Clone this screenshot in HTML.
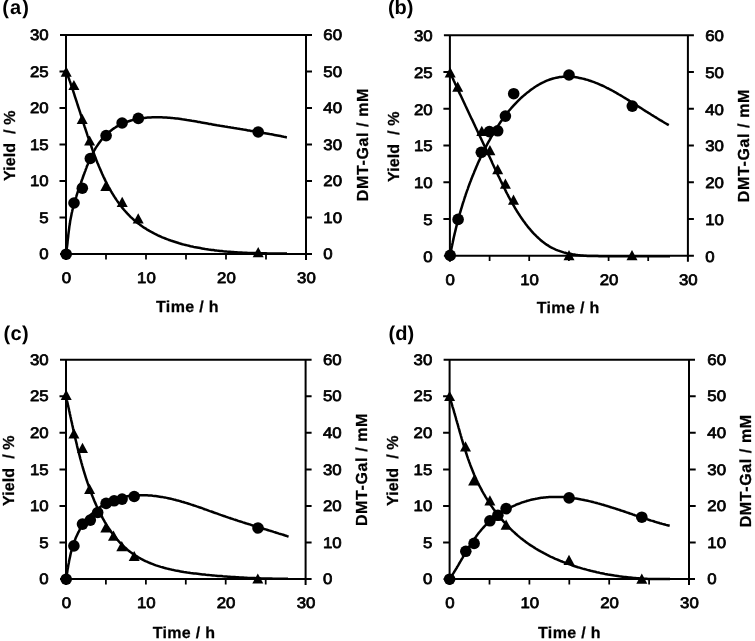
<!DOCTYPE html>
<html lang="en">
<head>
<meta charset="utf-8">
<title>Yield and DMT-Gal time courses</title>
<style>
html, body { margin: 0; padding: 0; background: #fff; }
body { width: 755px; height: 641px; overflow: hidden; font-family: "Liberation Sans", sans-serif; }
svg { display: block; }
</style>
</head>
<body>
<svg width="755" height="641" viewBox="0 0 755 641" font-family='"Liberation Sans", sans-serif' font-weight="normal" fill="#000" style="will-change:transform" text-rendering="geometricPrecision">
<g id="panel-a"><path d="M60.0,35.0 H312.0 M60.0,254.0 H312.0 M66.0,35.0 V260.0 M306.0,35.0 V260.0 M59.5,217.5 H66.0 M306.0,217.5 H312.0 M59.5,181.0 H66.0 M306.0,181.0 H312.0 M59.5,144.5 H66.0 M306.0,144.5 H312.0 M59.5,108.0 H66.0 M306.0,108.0 H312.0 M59.5,71.5 H66.0 M306.0,71.5 H312.0" fill="none" stroke="#000" stroke-width="2.0"/>
<path d="M106.0,254.0 V259.4 M146.0,254.0 V259.4 M186.0,254.0 V259.4 M226.0,254.0 V259.4 M266.0,254.0 V259.4" fill="none" stroke="#000" stroke-width="1.75"/>
<g stroke="#000" stroke-width="0.75" stroke-linejoin="round"><text transform="translate(48.7,259.2) scale(1.1,1)" font-size="15.3" text-anchor="end">0</text>
<text transform="translate(323.3,259.2) scale(1.1,1)" font-size="15.3" text-anchor="start">0</text>
<text transform="translate(48.7,222.7) scale(1.1,1)" font-size="15.3" text-anchor="end">5</text>
<text transform="translate(323.3,222.7) scale(1.1,1)" font-size="15.3" text-anchor="start">10</text>
<text transform="translate(48.7,186.2) scale(1.1,1)" font-size="15.3" text-anchor="end">10</text>
<text transform="translate(323.3,186.2) scale(1.1,1)" font-size="15.3" text-anchor="start">20</text>
<text transform="translate(48.7,149.7) scale(1.1,1)" font-size="15.3" text-anchor="end">15</text>
<text transform="translate(323.3,149.7) scale(1.1,1)" font-size="15.3" text-anchor="start">30</text>
<text transform="translate(48.7,113.2) scale(1.1,1)" font-size="15.3" text-anchor="end">20</text>
<text transform="translate(323.3,113.2) scale(1.1,1)" font-size="15.3" text-anchor="start">40</text>
<text transform="translate(48.7,76.7) scale(1.1,1)" font-size="15.3" text-anchor="end">25</text>
<text transform="translate(323.3,76.7) scale(1.1,1)" font-size="15.3" text-anchor="start">50</text>
<text transform="translate(48.7,40.2) scale(1.1,1)" font-size="15.3" text-anchor="end">30</text>
<text transform="translate(323.3,40.2) scale(1.1,1)" font-size="15.3" text-anchor="start">60</text>
<text transform="translate(66.4,283.4) scale(1.1,1)" font-size="15.3" text-anchor="middle">0</text>
<text transform="translate(146.4,283.4) scale(1.1,1)" font-size="15.3" text-anchor="middle">10</text>
<text transform="translate(226.4,283.4) scale(1.1,1)" font-size="15.3" text-anchor="middle">20</text>
<text transform="translate(306.4,283.4) scale(1.1,1)" font-size="15.3" text-anchor="middle">30</text></g>
<g font-weight="bold" stroke="#000" stroke-width="0.25" stroke-linejoin="round"><text transform="translate(187.3,312.4) scale(1,1)" font-size="16" text-anchor="middle" textLength="62.5" lengthAdjust="spacing">Time / h</text>
<text transform="translate(15.0,145.8) rotate(-90) scale(1,1)" font-size="16" text-anchor="middle" textLength="70.4" lengthAdjust="spacing" style="white-space:pre">Yield  / %</text>
<text transform="translate(367.5,144.9) rotate(-90) scale(1,1)" font-size="16" text-anchor="middle" textLength="112.5" lengthAdjust="spacing">DMT-Gal / mM</text></g>
<text x="2.2" y="14.4" font-size="20" font-weight="bold" textLength="26.6" lengthAdjust="spacing">(a)</text>
<path d="M66.1,254.0 L66.3,252.4 L66.5,250.8 L66.7,249.2 L66.9,247.6 L67.1,246.1 L67.3,244.5 L67.5,242.9 L67.6,241.3 L67.8,239.7 L68.0,238.2 L68.2,236.6 L68.3,235.0 L68.5,233.5 L68.7,231.9 L68.9,230.4 L69.1,228.8 L69.3,227.2 L69.5,225.7 L69.8,224.1 L70.0,222.6 L70.2,221.0 L70.5,219.5 L70.8,218.0 L71.1,216.4 L71.4,214.9 L71.7,213.3 L72.1,211.8 L72.4,210.3 L72.8,208.8 L73.2,207.2 L73.6,205.7 L74.0,204.2 L74.4,202.7 L74.9,201.1 L75.3,199.6 L75.8,198.1 L76.3,196.6 L76.7,195.1 L77.2,193.6 L77.7,192.0 L78.2,190.5 L78.8,189.0 L79.3,187.5 L79.8,186.0 L80.3,184.5 L80.9,183.0 L81.4,181.5 L81.9,180.0 L82.5,178.5 L83.0,177.0 L83.5,175.5 L84.1,174.0 L84.6,172.6 L85.2,171.1 L85.7,169.6 L86.3,168.1 L86.8,166.6 L87.4,165.2 L88.0,163.7 L88.6,162.3 L89.2,160.8 L89.8,159.4 L90.5,157.9 L91.1,156.5 L91.8,155.1 L92.5,153.7 L93.2,152.3 L94.0,150.9 L94.8,149.6 L95.6,148.2 L96.4,146.9 L97.3,145.6 L98.2,144.3 L99.1,143.0 L100.0,141.7 L101.0,140.4 L102.0,139.2 L103.1,138.0 L104.2,136.8 L105.3,135.6 L106.5,134.5 L107.7,133.4 L108.9,132.3 L110.1,131.3 L111.4,130.2 L112.6,129.3 L113.9,128.4 L115.3,127.5 L116.6,126.6 L118.0,125.8 L119.4,125.1 L120.8,124.4 L122.2,123.7 L123.6,123.1 L125.1,122.5 L126.5,122.0 L128.0,121.5 L129.5,121.0 L131.0,120.5 L132.5,120.1 L134.0,119.8 L135.5,119.4 L137.0,119.1 L138.5,118.8 L140.0,118.5 L141.5,118.3 L143.0,118.1 L144.6,117.9 L146.1,117.7 L147.7,117.6 L149.2,117.5 L150.8,117.4 L152.3,117.3 L153.9,117.3 L155.4,117.2 L157.0,117.2 L158.5,117.2 L160.1,117.3 L161.7,117.3 L163.3,117.4 L164.8,117.4 L166.4,117.5 L168.0,117.7 L169.6,117.8 L171.2,117.9 L172.7,118.1 L174.3,118.2 L175.9,118.4 L177.5,118.6 L179.1,118.8 L180.7,119.0 L182.3,119.3 L183.9,119.5 L185.4,119.7 L187.0,120.0 L188.6,120.2 L190.2,120.5 L191.8,120.8 L193.4,121.0 L195.0,121.3 L196.6,121.6 L198.2,121.9 L199.7,122.1 L201.3,122.4 L202.9,122.7 L204.5,123.0 L206.1,123.3 L207.6,123.6 L209.2,123.9 L210.8,124.1 L212.4,124.4 L213.9,124.7 L215.5,125.0 L217.0,125.3 L218.6,125.5 L220.2,125.8 L221.7,126.0 L223.3,126.3 L224.8,126.6 L226.4,126.8 L227.9,127.1 L229.5,127.3 L231.0,127.6 L232.5,127.8 L234.1,128.1 L235.6,128.3 L237.2,128.6 L238.7,128.8 L240.3,129.1 L241.8,129.3 L243.3,129.6 L244.9,129.8 L246.4,130.1 L248.0,130.4 L249.5,130.6 L251.0,130.9 L252.6,131.1 L254.1,131.4 L255.7,131.6 L257.2,131.9 L258.8,132.1 L260.3,132.4 L261.9,132.7 L263.4,132.9 L265.0,133.2 L266.5,133.5 L268.1,133.8 L269.6,134.1 L271.2,134.3 L272.7,134.6 L274.3,134.9 L275.9,135.2 L277.4,135.5 L279.0,135.8 L280.6,136.1 L282.2,136.4 L283.7,136.8 L285.3,137.1 L286.9,137.4" fill="none" stroke="#000" stroke-width="2.5" stroke-linejoin="round"/>
<path d="M66.2,71.2 L66.8,72.7 L67.3,74.3 L67.9,75.8 L68.4,77.3 L69.0,78.9 L69.5,80.4 L70.1,81.9 L70.6,83.5 L71.1,85.0 L71.7,86.5 L72.2,88.1 L72.7,89.6 L73.2,91.1 L73.7,92.7 L74.2,94.2 L74.7,95.8 L75.2,97.3 L75.7,98.8 L76.2,100.4 L76.7,101.9 L77.2,103.5 L77.7,105.0 L78.2,106.6 L78.7,108.1 L79.2,109.6 L79.7,111.2 L80.2,112.7 L80.7,114.3 L81.2,115.8 L81.7,117.4 L82.1,118.9 L82.6,120.5 L83.1,122.0 L83.6,123.6 L84.1,125.2 L84.6,126.7 L85.2,128.3 L85.7,129.8 L86.2,131.4 L86.7,132.9 L87.2,134.5 L87.7,136.1 L88.3,137.6 L88.8,139.2 L89.3,140.7 L89.9,142.3 L90.4,143.9 L91.0,145.4 L91.5,147.0 L92.1,148.6 L92.6,150.1 L93.2,151.7 L93.8,153.3 L94.4,154.9 L95.0,156.4 L95.6,158.0 L96.2,159.6 L96.8,161.1 L97.4,162.7 L98.1,164.2 L98.7,165.8 L99.4,167.4 L100.0,168.9 L100.7,170.4 L101.4,172.0 L102.0,173.5 L102.7,175.0 L103.4,176.6 L104.2,178.1 L104.9,179.6 L105.6,181.1 L106.4,182.6 L107.1,184.0 L107.9,185.5 L108.7,187.0 L109.5,188.4 L110.3,189.8 L111.1,191.3 L111.9,192.7 L112.8,194.1 L113.6,195.5 L114.5,196.9 L115.4,198.2 L116.3,199.6 L117.2,200.9 L118.2,202.2 L119.1,203.5 L120.1,204.8 L121.0,206.1 L122.0,207.4 L123.0,208.6 L124.0,209.8 L125.1,211.0 L126.1,212.2 L127.2,213.4 L128.3,214.5 L129.4,215.7 L130.5,216.8 L131.7,217.9 L132.8,218.9 L134.0,220.0 L135.2,221.0 L136.4,222.0 L137.6,223.0 L138.9,223.9 L140.1,224.9 L141.4,225.8 L142.7,226.7 L144.0,227.6 L145.4,228.4 L146.7,229.3 L148.1,230.1 L149.4,230.9 L150.8,231.7 L152.2,232.4 L153.6,233.2 L155.0,233.9 L156.5,234.6 L157.9,235.3 L159.4,236.0 L160.8,236.6 L162.3,237.3 L163.8,237.9 L165.3,238.5 L166.8,239.1 L168.4,239.7 L169.9,240.2 L171.4,240.8 L173.0,241.3 L174.5,241.8 L176.1,242.3 L177.7,242.8 L179.2,243.3 L180.8,243.7 L182.4,244.2 L184.0,244.6 L185.6,245.0 L187.2,245.4 L188.9,245.8 L190.5,246.2 L192.1,246.5 L193.7,246.9 L195.4,247.2 L197.0,247.5 L198.6,247.8 L200.3,248.1 L201.9,248.4 L203.6,248.7 L205.2,249.0 L206.9,249.2 L208.5,249.5 L210.2,249.7 L211.8,249.9 L213.5,250.1 L215.1,250.4 L216.8,250.6 L218.4,250.7 L220.1,250.9 L221.7,251.1 L223.4,251.3 L225.0,251.4 L226.7,251.6 L228.3,251.7 L230.0,251.8 L231.6,252.0 L233.3,252.1 L234.9,252.2 L236.6,252.3 L238.2,252.4 L239.9,252.5 L241.5,252.6 L243.2,252.7 L244.8,252.7 L246.4,252.8 L248.1,252.9 L249.7,252.9 L251.4,253.0 L253.0,253.0 L254.7,253.1 L256.3,253.1 L257.9,253.2 L259.6,253.2 L261.2,253.3 L262.8,253.3 L264.4,253.3 L266.1,253.3 L267.7,253.4 L269.3,253.4 L270.9,253.4 L272.6,253.4 L274.2,253.5 L275.8,253.5 L277.4,253.5 L279.0,253.5 L280.6,253.5 L282.2,253.5 L283.8,253.6 L285.4,253.6 L287.0,253.6" fill="none" stroke="#000" stroke-width="2.5" stroke-linejoin="round"/>
<path d="M66.2,66.5 L71.7,76.7 L60.7,76.7 Z"/>
<path d="M73.9,79.9 L79.4,90.1 L68.4,90.1 Z"/>
<path d="M82.2,113.8 L87.7,124.0 L76.7,124.0 Z"/>
<path d="M89.6,135.4 L95.1,145.6 L84.1,145.6 Z"/>
<path d="M105.8,180.7 L111.3,190.9 L100.3,190.9 Z"/>
<path d="M122.2,196.8 L127.7,207.0 L116.7,207.0 Z"/>
<path d="M138.2,213.3 L143.7,223.5 L132.7,223.5 Z"/>
<path d="M258.2,247.0 L263.7,257.2 L252.7,257.2 Z"/>
<circle cx="66.2" cy="254.2" r="5.8"/>
<circle cx="74.0" cy="203.0" r="5.8"/>
<circle cx="82.3" cy="188.2" r="5.8"/>
<circle cx="90.3" cy="158.5" r="5.8"/>
<circle cx="106.1" cy="135.6" r="5.8"/>
<circle cx="122.1" cy="123.0" r="5.8"/>
<circle cx="138.3" cy="118.4" r="5.8"/>
<circle cx="258.2" cy="132.0" r="5.8"/></g>
<g id="panel-b"><path d="M443.9,35.3 H693.9 M443.9,255.7 H693.9 M449.9,35.3 V261.7 M687.9,35.3 V261.7 M443.4,219.0 H449.9 M687.9,219.0 H693.9 M443.4,182.2 H449.9 M687.9,182.2 H693.9 M443.4,145.5 H449.9 M687.9,145.5 H693.9 M443.4,108.8 H449.9 M687.9,108.8 H693.9 M443.4,72.0 H449.9 M687.9,72.0 H693.9" fill="none" stroke="#000" stroke-width="2.0"/>
<path d="M489.6,255.7 V261.1 M529.2,255.7 V261.1 M568.9,255.7 V261.1 M608.6,255.7 V261.1 M648.2,255.7 V261.1" fill="none" stroke="#000" stroke-width="1.75"/>
<g stroke="#000" stroke-width="0.75" stroke-linejoin="round"><text transform="translate(432.6,261.6) scale(1.1,1)" font-size="15.3" text-anchor="end">0</text>
<text transform="translate(705.2,261.6) scale(1.1,1)" font-size="15.3" text-anchor="start">0</text>
<text transform="translate(432.6,224.9) scale(1.1,1)" font-size="15.3" text-anchor="end">5</text>
<text transform="translate(705.2,224.9) scale(1.1,1)" font-size="15.3" text-anchor="start">10</text>
<text transform="translate(432.6,188.1) scale(1.1,1)" font-size="15.3" text-anchor="end">10</text>
<text transform="translate(705.2,188.1) scale(1.1,1)" font-size="15.3" text-anchor="start">20</text>
<text transform="translate(432.6,151.4) scale(1.1,1)" font-size="15.3" text-anchor="end">15</text>
<text transform="translate(705.2,151.4) scale(1.1,1)" font-size="15.3" text-anchor="start">30</text>
<text transform="translate(432.6,114.7) scale(1.1,1)" font-size="15.3" text-anchor="end">20</text>
<text transform="translate(705.2,114.7) scale(1.1,1)" font-size="15.3" text-anchor="start">40</text>
<text transform="translate(432.6,77.9) scale(1.1,1)" font-size="15.3" text-anchor="end">25</text>
<text transform="translate(705.2,77.9) scale(1.1,1)" font-size="15.3" text-anchor="start">50</text>
<text transform="translate(432.6,41.2) scale(1.1,1)" font-size="15.3" text-anchor="end">30</text>
<text transform="translate(705.2,41.2) scale(1.1,1)" font-size="15.3" text-anchor="start">60</text>
<text transform="translate(450.3,285.1) scale(1.1,1)" font-size="15.3" text-anchor="middle">0</text>
<text transform="translate(529.6,285.1) scale(1.1,1)" font-size="15.3" text-anchor="middle">10</text>
<text transform="translate(609.0,285.1) scale(1.1,1)" font-size="15.3" text-anchor="middle">20</text>
<text transform="translate(688.3,285.1) scale(1.1,1)" font-size="15.3" text-anchor="middle">30</text></g>
<g font-weight="bold" stroke="#000" stroke-width="0.25" stroke-linejoin="round"><text transform="translate(568.0,313.4) scale(1,1)" font-size="16" text-anchor="middle" textLength="62.5" lengthAdjust="spacing">Time / h</text>
<text transform="translate(398.9,146.8) rotate(-90) scale(1,1)" font-size="16" text-anchor="middle" textLength="70.4" lengthAdjust="spacing" style="white-space:pre">Yield  / %</text>
<text transform="translate(749.4,145.9) rotate(-90) scale(1,1)" font-size="16" text-anchor="middle" textLength="112.5" lengthAdjust="spacing">DMT-Gal / mM</text></g>
<text x="387.9" y="14.4" font-size="20" font-weight="bold" textLength="25.6" lengthAdjust="spacing">(b)</text>
<path d="M450.2,255.4 L450.5,253.8 L450.8,252.1 L451.1,250.5 L451.4,248.8 L451.7,247.2 L452.1,245.5 L452.4,243.9 L452.8,242.2 L453.1,240.6 L453.5,238.9 L453.8,237.2 L454.2,235.6 L454.6,233.9 L455.0,232.2 L455.4,230.6 L455.8,228.9 L456.2,227.2 L456.6,225.6 L457.0,223.9 L457.5,222.2 L457.9,220.6 L458.3,218.9 L458.8,217.2 L459.3,215.6 L459.7,213.9 L460.2,212.3 L460.7,210.6 L461.2,208.9 L461.7,207.3 L462.2,205.6 L462.7,203.9 L463.2,202.3 L463.8,200.6 L464.3,199.0 L464.8,197.3 L465.4,195.7 L465.9,194.0 L466.5,192.4 L467.1,190.7 L467.7,189.1 L468.2,187.5 L468.8,185.8 L469.4,184.2 L470.0,182.6 L470.7,180.9 L471.3,179.3 L471.9,177.7 L472.6,176.1 L473.2,174.5 L473.9,172.9 L474.5,171.3 L475.2,169.7 L475.9,168.1 L476.5,166.5 L477.2,164.9 L477.9,163.3 L478.6,161.7 L479.4,160.2 L480.1,158.6 L480.8,157.0 L481.5,155.5 L482.3,153.9 L483.0,152.4 L483.8,150.9 L484.6,149.3 L485.3,147.8 L486.1,146.3 L486.9,144.8 L487.7,143.3 L488.5,141.8 L489.4,140.3 L490.2,138.8 L491.0,137.3 L491.9,135.9 L492.7,134.4 L493.6,132.9 L494.5,131.5 L495.4,130.1 L496.2,128.6 L497.1,127.2 L498.1,125.8 L499.0,124.4 L499.9,123.0 L500.9,121.6 L501.9,120.2 L502.8,118.8 L503.8,117.5 L504.8,116.1 L505.9,114.8 L506.9,113.4 L508.0,112.1 L509.0,110.8 L510.1,109.5 L511.2,108.2 L512.4,106.9 L513.5,105.7 L514.7,104.4 L515.9,103.1 L517.1,101.9 L518.3,100.7 L519.6,99.4 L520.8,98.2 L522.1,97.0 L523.4,95.9 L524.8,94.7 L526.1,93.6 L527.5,92.4 L528.9,91.4 L530.3,90.3 L531.7,89.2 L533.2,88.2 L534.6,87.2 L536.1,86.3 L537.6,85.4 L539.1,84.5 L540.6,83.6 L542.1,82.8 L543.7,82.1 L545.2,81.4 L546.8,80.7 L548.3,80.1 L549.9,79.5 L551.5,79.0 L553.1,78.5 L554.7,78.1 L556.3,77.7 L557.9,77.4 L559.6,77.1 L561.2,76.9 L562.8,76.8 L564.5,76.7 L566.1,76.6 L567.8,76.6 L569.4,76.7 L571.1,76.8 L572.7,76.9 L574.4,77.1 L576.0,77.3 L577.7,77.6 L579.3,77.9 L581.0,78.2 L582.6,78.6 L584.3,79.0 L585.9,79.5 L587.6,79.9 L589.2,80.5 L590.8,81.0 L592.5,81.6 L594.1,82.2 L595.7,82.8 L597.3,83.4 L598.9,84.1 L600.5,84.8 L602.1,85.5 L603.6,86.2 L605.2,87.0 L606.8,87.8 L608.3,88.5 L609.9,89.4 L611.4,90.2 L613.0,91.0 L614.5,91.9 L616.0,92.7 L617.5,93.6 L619.0,94.5 L620.6,95.4 L622.1,96.3 L623.6,97.2 L625.1,98.1 L626.6,99.0 L628.0,99.9 L629.5,100.9 L631.0,101.8 L632.5,102.7 L634.0,103.7 L635.4,104.6 L636.9,105.5 L638.4,106.5 L639.8,107.4 L641.3,108.3 L642.7,109.2 L644.2,110.2 L645.6,111.1 L647.1,112.0 L648.5,112.9 L650.0,113.8 L651.4,114.7 L652.9,115.6 L654.3,116.5 L655.8,117.4 L657.2,118.3 L658.7,119.2 L660.1,120.1 L661.6,120.9 L663.0,121.8 L664.5,122.7 L665.9,123.5 L667.4,124.4 L668.8,125.2" fill="none" stroke="#000" stroke-width="2.5" stroke-linejoin="round"/>
<path d="M449.9,72.0 L450.5,73.4 L451.2,74.9 L451.8,76.3 L452.5,77.8 L453.2,79.2 L453.8,80.7 L454.5,82.1 L455.1,83.6 L455.8,85.0 L456.5,86.5 L457.2,88.0 L457.9,89.4 L458.5,90.9 L459.2,92.4 L459.9,93.9 L460.6,95.3 L461.3,96.8 L462.0,98.3 L462.7,99.8 L463.4,101.3 L464.1,102.8 L464.8,104.3 L465.5,105.8 L466.2,107.2 L466.9,108.7 L467.6,110.2 L468.3,111.7 L469.0,113.2 L469.7,114.7 L470.4,116.2 L471.1,117.7 L471.8,119.2 L472.6,120.7 L473.3,122.2 L474.0,123.7 L474.7,125.2 L475.4,126.8 L476.1,128.3 L476.8,129.8 L477.5,131.3 L478.2,132.8 L479.0,134.3 L479.7,135.8 L480.4,137.3 L481.1,138.8 L481.8,140.3 L482.5,141.8 L483.2,143.3 L483.9,144.8 L484.6,146.3 L485.3,147.8 L486.0,149.3 L486.7,150.8 L487.4,152.3 L488.1,153.8 L488.8,155.3 L489.5,156.8 L490.2,158.3 L490.9,159.8 L491.6,161.3 L492.2,162.8 L492.9,164.3 L493.6,165.7 L494.3,167.2 L495.0,168.7 L495.7,170.2 L496.4,171.7 L497.1,173.1 L497.8,174.6 L498.5,176.1 L499.2,177.5 L499.9,179.0 L500.6,180.5 L501.3,181.9 L502.0,183.4 L502.7,184.8 L503.4,186.3 L504.1,187.7 L504.9,189.2 L505.6,190.6 L506.3,192.1 L507.0,193.5 L507.8,194.9 L508.5,196.4 L509.3,197.8 L510.0,199.2 L510.8,200.6 L511.6,202.0 L512.4,203.4 L513.2,204.8 L514.0,206.2 L514.8,207.6 L515.6,209.0 L516.5,210.4 L517.3,211.8 L518.2,213.1 L519.1,214.5 L520.0,215.9 L520.9,217.2 L521.8,218.6 L522.8,220.0 L523.7,221.3 L524.7,222.6 L525.7,224.0 L526.7,225.3 L527.7,226.6 L528.8,227.9 L529.9,229.1 L530.9,230.4 L532.0,231.6 L533.1,232.9 L534.3,234.1 L535.4,235.2 L536.6,236.4 L537.8,237.5 L539.0,238.6 L540.2,239.7 L541.4,240.7 L542.7,241.8 L544.0,242.7 L545.3,243.7 L546.6,244.6 L547.9,245.4 L549.2,246.3 L550.6,247.1 L552.0,247.8 L553.4,248.5 L554.8,249.2 L556.2,249.8 L557.7,250.4 L559.1,250.9 L560.6,251.4 L562.1,251.9 L563.6,252.4 L565.1,252.8 L566.7,253.2 L568.2,253.5 L569.8,253.8 L571.4,254.1 L572.9,254.4 L574.5,254.6 L576.1,254.9 L577.7,255.1 L579.3,255.2 L581.0,255.4 L582.6,255.5 L584.2,255.7 L585.9,255.8 L587.5,255.9 L589.2,255.9 L590.8,256.0 L592.5,256.0 L594.1,256.1 L595.8,256.1 L597.5,256.1 L599.1,256.2 L600.8,256.2 L602.5,256.2 L604.2,256.2 L605.8,256.2 L607.5,256.2 L609.2,256.2 L610.9,256.2 L612.6,256.2 L614.3,256.2 L615.9,256.2 L617.6,256.2 L619.3,256.2 L621.0,256.2 L622.7,256.2 L624.4,256.2 L626.0,256.2 L627.7,256.2 L629.4,256.2 L631.1,256.2 L632.7,256.2 L634.4,256.2 L636.1,256.2 L637.7,256.2 L639.4,256.2 L641.1,256.2 L642.7,256.2 L644.4,256.2 L646.0,256.2 L647.6,256.2 L649.3,256.2 L650.9,256.2 L652.5,256.2 L654.2,256.2 L655.8,256.2 L657.4,256.2 L659.0,256.2 L660.6,256.2 L662.2,256.2 L663.7,256.2 L665.3,256.2 L666.9,256.2 L668.4,256.2 L670.0,256.2" fill="none" stroke="#000" stroke-width="2.5" stroke-linejoin="round"/>
<path d="M450.2,67.2 L455.7,77.4 L444.7,77.4 Z"/>
<path d="M457.7,81.5 L463.2,91.7 L452.2,91.7 Z"/>
<path d="M481.8,125.7 L487.3,135.9 L476.3,135.9 Z"/>
<path d="M489.9,145.1 L495.4,155.3 L484.4,155.3 Z"/>
<path d="M497.7,164.1 L503.2,174.3 L492.2,174.3 Z"/>
<path d="M505.4,178.5 L510.9,188.7 L499.9,188.7 Z"/>
<path d="M513.5,194.5 L519.0,204.7 L508.0,204.7 Z"/>
<path d="M569.0,250.1 L574.5,260.3 L563.5,260.3 Z"/>
<path d="M632.0,250.0 L637.5,260.2 L626.5,260.2 Z"/>
<circle cx="450.2" cy="255.4" r="5.8"/>
<circle cx="458.1" cy="219.4" r="5.8"/>
<circle cx="481.3" cy="152.3" r="5.8"/>
<circle cx="489.4" cy="131.6" r="5.8"/>
<circle cx="497.7" cy="130.8" r="5.8"/>
<circle cx="505.4" cy="116.1" r="5.8"/>
<circle cx="513.7" cy="93.7" r="5.8"/>
<circle cx="569.0" cy="75.0" r="5.8"/>
<circle cx="632.3" cy="106.1" r="5.8"/></g>
<g id="panel-c"><path d="M60.0,359.7 H311.6 M60.0,579.0 H311.6 M66.0,359.7 V585.0 M305.6,359.7 V585.0 M59.5,542.5 H66.0 M305.6,542.5 H311.6 M59.5,505.9 H66.0 M305.6,505.9 H311.6 M59.5,469.4 H66.0 M305.6,469.4 H311.6 M59.5,432.8 H66.0 M305.6,432.8 H311.6 M59.5,396.2 H66.0 M305.6,396.2 H311.6" fill="none" stroke="#000" stroke-width="2.0"/>
<path d="M105.9,579.0 V584.4 M145.9,579.0 V584.4 M185.8,579.0 V584.4 M225.7,579.0 V584.4 M265.7,579.0 V584.4" fill="none" stroke="#000" stroke-width="1.75"/>
<g stroke="#000" stroke-width="0.75" stroke-linejoin="round"><text transform="translate(48.7,584.2) scale(1.1,1)" font-size="15.3" text-anchor="end">0</text>
<text transform="translate(322.9,584.2) scale(1.1,1)" font-size="15.3" text-anchor="start">0</text>
<text transform="translate(48.7,547.7) scale(1.1,1)" font-size="15.3" text-anchor="end">5</text>
<text transform="translate(322.9,547.7) scale(1.1,1)" font-size="15.3" text-anchor="start">10</text>
<text transform="translate(48.7,511.1) scale(1.1,1)" font-size="15.3" text-anchor="end">10</text>
<text transform="translate(322.9,511.1) scale(1.1,1)" font-size="15.3" text-anchor="start">20</text>
<text transform="translate(48.7,474.6) scale(1.1,1)" font-size="15.3" text-anchor="end">15</text>
<text transform="translate(322.9,474.6) scale(1.1,1)" font-size="15.3" text-anchor="start">30</text>
<text transform="translate(48.7,438.0) scale(1.1,1)" font-size="15.3" text-anchor="end">20</text>
<text transform="translate(322.9,438.0) scale(1.1,1)" font-size="15.3" text-anchor="start">40</text>
<text transform="translate(48.7,401.4) scale(1.1,1)" font-size="15.3" text-anchor="end">25</text>
<text transform="translate(322.9,401.4) scale(1.1,1)" font-size="15.3" text-anchor="start">50</text>
<text transform="translate(48.7,364.9) scale(1.1,1)" font-size="15.3" text-anchor="end">30</text>
<text transform="translate(322.9,364.9) scale(1.1,1)" font-size="15.3" text-anchor="start">60</text>
<text transform="translate(66.4,608.4) scale(1.1,1)" font-size="15.3" text-anchor="middle">0</text>
<text transform="translate(146.3,608.4) scale(1.1,1)" font-size="15.3" text-anchor="middle">10</text>
<text transform="translate(226.1,608.4) scale(1.1,1)" font-size="15.3" text-anchor="middle">20</text>
<text transform="translate(306.0,608.4) scale(1.1,1)" font-size="15.3" text-anchor="middle">30</text></g>
<g font-weight="bold" stroke="#000" stroke-width="0.25" stroke-linejoin="round"><text transform="translate(183.9,637.5) scale(1,1)" font-size="16" text-anchor="middle" textLength="62.5" lengthAdjust="spacing">Time / h</text>
<text transform="translate(14.0,470.7) rotate(-90) scale(1,1)" font-size="16" text-anchor="middle" textLength="70.4" lengthAdjust="spacing" style="white-space:pre">Yield  / %</text>
<text transform="translate(367.1,469.8) rotate(-90) scale(1,1)" font-size="16" text-anchor="middle" textLength="112.5" lengthAdjust="spacing">DMT-Gal / mM</text></g>
<text x="3.4" y="339.5" font-size="20" font-weight="bold" textLength="25.2" lengthAdjust="spacing">(c)</text>
<path d="M66.1,579.0 L66.3,577.7 L66.5,576.3 L66.8,574.9 L67.0,573.6 L67.2,572.2 L67.4,570.8 L67.6,569.4 L67.9,568.0 L68.1,566.7 L68.3,565.3 L68.6,563.9 L68.9,562.5 L69.1,561.1 L69.4,559.7 L69.7,558.3 L70.0,556.9 L70.3,555.5 L70.6,554.1 L70.9,552.7 L71.3,551.3 L71.7,549.9 L72.0,548.6 L72.4,547.2 L72.9,545.8 L73.3,544.5 L73.8,543.1 L74.3,541.8 L74.8,540.5 L75.3,539.1 L75.8,537.8 L76.4,536.5 L77.0,535.2 L77.6,533.9 L78.2,532.7 L78.9,531.4 L79.5,530.2 L80.2,528.9 L80.9,527.7 L81.7,526.5 L82.4,525.3 L83.2,524.2 L84.0,523.0 L84.8,521.9 L85.7,520.8 L86.5,519.7 L87.4,518.6 L88.3,517.6 L89.2,516.5 L90.1,515.5 L91.1,514.5 L92.1,513.6 L93.1,512.6 L94.1,511.7 L95.1,510.8 L96.2,509.9 L97.3,509.1 L98.4,508.3 L99.5,507.5 L100.6,506.7 L101.8,505.9 L102.9,505.2 L104.1,504.5 L105.3,503.8 L106.5,503.2 L107.7,502.6 L109.0,502.0 L110.2,501.4 L111.5,500.8 L112.7,500.3 L114.0,499.8 L115.3,499.3 L116.6,498.9 L117.9,498.5 L119.3,498.1 L120.6,497.7 L121.9,497.4 L123.3,497.1 L124.7,496.8 L126.0,496.5 L127.4,496.3 L128.8,496.1 L130.2,495.9 L131.6,495.7 L132.9,495.6 L134.3,495.5 L135.8,495.4 L137.2,495.3 L138.6,495.2 L140.0,495.2 L141.4,495.2 L142.8,495.2 L144.2,495.2 L145.7,495.3 L147.1,495.3 L148.5,495.4 L149.9,495.5 L151.3,495.6 L152.8,495.8 L154.2,495.9 L155.6,496.1 L157.0,496.3 L158.4,496.5 L159.8,496.7 L161.2,496.9 L162.6,497.1 L164.0,497.4 L165.4,497.6 L166.8,497.9 L168.1,498.2 L169.5,498.5 L170.9,498.8 L172.3,499.1 L173.7,499.5 L175.0,499.8 L176.4,500.2 L177.8,500.5 L179.1,500.9 L180.5,501.3 L181.8,501.7 L183.2,502.0 L184.6,502.5 L185.9,502.9 L187.3,503.3 L188.6,503.7 L190.0,504.1 L191.3,504.6 L192.6,505.0 L194.0,505.5 L195.3,505.9 L196.7,506.4 L198.0,506.8 L199.3,507.3 L200.7,507.7 L202.0,508.2 L203.3,508.7 L204.7,509.2 L206.0,509.6 L207.3,510.1 L208.6,510.6 L210.0,511.1 L211.3,511.5 L212.6,512.0 L213.9,512.5 L215.3,513.0 L216.6,513.4 L217.9,513.9 L219.2,514.4 L220.6,514.9 L221.9,515.3 L223.2,515.8 L224.5,516.2 L225.8,516.7 L227.1,517.1 L228.5,517.6 L229.8,518.0 L231.1,518.5 L232.4,518.9 L233.7,519.4 L235.1,519.8 L236.4,520.2 L237.7,520.7 L239.0,521.1 L240.3,521.5 L241.7,521.9 L243.0,522.4 L244.3,522.8 L245.6,523.2 L246.9,523.6 L248.3,524.0 L249.6,524.4 L250.9,524.8 L252.2,525.3 L253.6,525.7 L254.9,526.1 L256.2,526.5 L257.6,526.9 L258.9,527.3 L260.2,527.7 L261.5,528.1 L262.9,528.5 L264.2,529.0 L265.6,529.4 L266.9,529.8 L268.2,530.2 L269.6,530.6 L270.9,531.0 L272.3,531.4 L273.6,531.9 L275.0,532.3 L276.3,532.7 L277.7,533.1 L279.0,533.6 L280.4,534.0 L281.8,534.4 L283.1,534.8 L284.5,535.3 L285.9,535.7 L287.2,536.2 L288.6,536.6" fill="none" stroke="#000" stroke-width="2.5" stroke-linejoin="round"/>
<path d="M66.2,397.2 L66.6,398.8 L66.9,400.5 L67.3,402.1 L67.7,403.8 L68.0,405.4 L68.4,407.0 L68.8,408.7 L69.1,410.3 L69.5,412.0 L69.8,413.6 L70.2,415.2 L70.5,416.8 L70.9,418.5 L71.2,420.1 L71.6,421.7 L72.0,423.4 L72.3,425.0 L72.7,426.6 L73.0,428.2 L73.4,429.9 L73.8,431.5 L74.1,433.1 L74.5,434.7 L74.9,436.4 L75.2,438.0 L75.6,439.6 L76.0,441.2 L76.4,442.9 L76.8,444.5 L77.1,446.1 L77.5,447.7 L77.9,449.3 L78.3,450.9 L78.8,452.6 L79.2,454.2 L79.6,455.8 L80.0,457.4 L80.4,459.0 L80.9,460.6 L81.3,462.3 L81.8,463.9 L82.2,465.5 L82.7,467.1 L83.1,468.7 L83.6,470.3 L84.1,471.9 L84.6,473.6 L85.1,475.2 L85.6,476.8 L86.1,478.4 L86.6,480.0 L87.2,481.6 L87.7,483.2 L88.3,484.9 L88.8,486.5 L89.4,488.1 L90.0,489.7 L90.6,491.3 L91.2,492.9 L91.8,494.5 L92.4,496.1 L93.0,497.6 L93.7,499.2 L94.3,500.8 L95.0,502.4 L95.7,503.9 L96.4,505.5 L97.1,507.0 L97.8,508.6 L98.6,510.1 L99.3,511.6 L100.1,513.2 L100.8,514.7 L101.6,516.2 L102.4,517.7 L103.2,519.1 L104.1,520.6 L104.9,522.1 L105.8,523.5 L106.6,524.9 L107.5,526.4 L108.4,527.8 L109.4,529.2 L110.3,530.5 L111.3,531.9 L112.2,533.2 L113.2,534.5 L114.2,535.9 L115.3,537.1 L116.3,538.4 L117.4,539.7 L118.4,540.9 L119.5,542.1 L120.6,543.3 L121.8,544.4 L122.9,545.6 L124.1,546.7 L125.3,547.8 L126.5,548.8 L127.7,549.9 L129.0,550.9 L130.3,551.9 L131.5,552.9 L132.9,553.8 L134.2,554.7 L135.5,555.6 L136.9,556.4 L138.3,557.3 L139.7,558.1 L141.1,558.9 L142.5,559.6 L144.0,560.4 L145.4,561.1 L146.9,561.7 L148.4,562.4 L149.9,563.0 L151.4,563.6 L152.9,564.2 L154.5,564.8 L156.0,565.4 L157.6,565.9 L159.2,566.4 L160.8,566.9 L162.4,567.3 L164.0,567.8 L165.6,568.2 L167.2,568.6 L168.8,569.0 L170.5,569.4 L172.1,569.8 L173.8,570.1 L175.4,570.5 L177.1,570.8 L178.8,571.1 L180.5,571.4 L182.2,571.7 L183.8,572.0 L185.5,572.2 L187.2,572.5 L188.9,572.7 L190.6,573.0 L192.3,573.2 L194.0,573.4 L195.8,573.6 L197.5,573.8 L199.2,574.0 L200.9,574.2 L202.6,574.4 L204.3,574.6 L206.0,574.8 L207.7,574.9 L209.4,575.1 L211.1,575.2 L212.8,575.4 L214.5,575.6 L216.2,575.7 L217.9,575.9 L219.6,576.0 L221.3,576.1 L223.0,576.3 L224.7,576.4 L226.4,576.5 L228.0,576.7 L229.7,576.8 L231.4,576.9 L233.1,577.0 L234.8,577.1 L236.4,577.2 L238.1,577.3 L239.8,577.4 L241.5,577.5 L243.1,577.6 L244.8,577.7 L246.5,577.8 L248.1,577.9 L249.8,577.9 L251.5,578.0 L253.1,578.1 L254.8,578.1 L256.5,578.2 L258.1,578.3 L259.8,578.3 L261.5,578.4 L263.1,578.4 L264.8,578.5 L266.4,578.5 L268.1,578.6 L269.8,578.6 L271.4,578.6 L273.1,578.7 L274.7,578.7 L276.4,578.7 L278.1,578.7 L279.7,578.8 L281.4,578.8 L283.0,578.8 L284.7,578.8 L286.3,578.8 L288.0,578.8" fill="none" stroke="#000" stroke-width="2.5" stroke-linejoin="round"/>
<path d="M66.2,389.7 L71.7,399.9 L60.7,399.9 Z"/>
<path d="M73.9,428.3 L79.4,438.5 L68.4,438.5 Z"/>
<path d="M82.5,442.8 L88.0,453.0 L77.0,453.0 Z"/>
<path d="M89.6,483.7 L95.1,493.9 L84.1,493.9 Z"/>
<path d="M98.0,507.0 L103.5,517.2 L92.5,517.2 Z"/>
<path d="M105.8,522.2 L111.3,532.4 L100.3,532.4 Z"/>
<path d="M113.5,530.6 L119.0,540.8 L108.0,540.8 Z"/>
<path d="M121.8,541.0 L127.3,551.2 L116.3,551.2 Z"/>
<path d="M134.2,550.9 L139.7,561.1 L128.7,561.1 Z"/>
<path d="M257.8,573.4 L263.3,583.6 L252.3,583.6 Z"/>
<circle cx="66.2" cy="579.2" r="5.8"/>
<circle cx="73.9" cy="545.9" r="5.8"/>
<circle cx="82.5" cy="524.1" r="5.8"/>
<circle cx="90.3" cy="520.1" r="5.8"/>
<circle cx="97.7" cy="512.5" r="5.8"/>
<circle cx="106.1" cy="503.4" r="5.8"/>
<circle cx="114.1" cy="500.8" r="5.8"/>
<circle cx="122.1" cy="499.1" r="5.8"/>
<circle cx="134.2" cy="496.5" r="5.8"/>
<circle cx="258.0" cy="528.0" r="5.8"/></g>
<g id="panel-d"><path d="M443.6,359.7 H695.0 M443.6,579.0 H695.0 M449.6,359.7 V585.0 M689.0,359.7 V585.0 M443.1,542.5 H449.6 M689.0,542.5 H695.7 M443.1,505.9 H449.6 M689.0,505.9 H695.7 M443.1,469.4 H449.6 M689.0,469.4 H695.7 M443.1,432.8 H449.6 M689.0,432.8 H695.7 M443.1,396.2 H449.6 M689.0,396.2 H695.7" fill="none" stroke="#000" stroke-width="2.0"/>
<path d="M489.5,579.0 V584.4 M529.4,579.0 V584.4 M569.3,579.0 V584.4 M609.2,579.0 V584.4 M649.1,579.0 V584.4" fill="none" stroke="#000" stroke-width="1.75"/>
<g stroke="#000" stroke-width="0.75" stroke-linejoin="round"><text transform="translate(432.3,584.2) scale(1.1,1)" font-size="15.3" text-anchor="end">0</text>
<text transform="translate(707.3,584.2) scale(1.1,1)" font-size="15.3" text-anchor="start">0</text>
<text transform="translate(432.3,547.7) scale(1.1,1)" font-size="15.3" text-anchor="end">5</text>
<text transform="translate(707.3,547.7) scale(1.1,1)" font-size="15.3" text-anchor="start">10</text>
<text transform="translate(432.3,511.1) scale(1.1,1)" font-size="15.3" text-anchor="end">10</text>
<text transform="translate(707.3,511.1) scale(1.1,1)" font-size="15.3" text-anchor="start">20</text>
<text transform="translate(432.3,474.6) scale(1.1,1)" font-size="15.3" text-anchor="end">15</text>
<text transform="translate(707.3,474.6) scale(1.1,1)" font-size="15.3" text-anchor="start">30</text>
<text transform="translate(432.3,438.0) scale(1.1,1)" font-size="15.3" text-anchor="end">20</text>
<text transform="translate(707.3,438.0) scale(1.1,1)" font-size="15.3" text-anchor="start">40</text>
<text transform="translate(432.3,401.4) scale(1.1,1)" font-size="15.3" text-anchor="end">25</text>
<text transform="translate(707.3,401.4) scale(1.1,1)" font-size="15.3" text-anchor="start">50</text>
<text transform="translate(432.3,364.9) scale(1.1,1)" font-size="15.3" text-anchor="end">30</text>
<text transform="translate(707.3,364.9) scale(1.1,1)" font-size="15.3" text-anchor="start">60</text>
<text transform="translate(450.0,608.4) scale(1.1,1)" font-size="15.3" text-anchor="middle">0</text>
<text transform="translate(529.8,608.4) scale(1.1,1)" font-size="15.3" text-anchor="middle">10</text>
<text transform="translate(609.6,608.4) scale(1.1,1)" font-size="15.3" text-anchor="middle">20</text>
<text transform="translate(689.4,608.4) scale(1.1,1)" font-size="15.3" text-anchor="middle">30</text></g>
<g font-weight="bold" stroke="#000" stroke-width="0.25" stroke-linejoin="round"><text transform="translate(569.3,637.7) scale(1,1)" font-size="16" text-anchor="middle" textLength="62.5" lengthAdjust="spacing">Time / h</text>
<text transform="translate(397.7,470.7) rotate(-90) scale(1,1)" font-size="16" text-anchor="middle" textLength="70.4" lengthAdjust="spacing" style="white-space:pre">Yield  / %</text>
<text transform="translate(750.5,471.1) rotate(-90) scale(1,1)" font-size="16" text-anchor="middle" textLength="112.5" lengthAdjust="spacing">DMT-Gal / mM</text></g>
<text x="388.5" y="339.5" font-size="20" font-weight="bold" textLength="25.6" lengthAdjust="spacing">(d)</text>
<path d="M449.6,579.2 L450.3,578.1 L451.0,577.0 L451.7,575.9 L452.4,574.8 L453.1,573.7 L453.8,572.6 L454.5,571.4 L455.2,570.3 L455.9,569.2 L456.6,568.1 L457.2,566.9 L457.9,565.8 L458.6,564.6 L459.2,563.5 L459.9,562.3 L460.6,561.2 L461.2,560.1 L461.9,558.9 L462.6,557.8 L463.2,556.6 L463.9,555.5 L464.6,554.3 L465.3,553.2 L465.9,552.1 L466.6,550.9 L467.3,549.8 L468.0,548.7 L468.7,547.5 L469.4,546.4 L470.1,545.3 L470.8,544.2 L471.5,543.1 L472.2,542.0 L473.0,540.9 L473.7,539.8 L474.5,538.8 L475.2,537.7 L476.0,536.7 L476.8,535.6 L477.5,534.6 L478.3,533.5 L479.1,532.5 L480.0,531.5 L480.8,530.5 L481.6,529.5 L482.5,528.5 L483.3,527.6 L484.2,526.6 L485.1,525.7 L486.0,524.8 L486.9,523.9 L487.9,523.0 L488.8,522.1 L489.8,521.2 L490.8,520.4 L491.7,519.5 L492.7,518.7 L493.8,517.9 L494.8,517.1 L495.8,516.3 L496.9,515.5 L497.9,514.8 L499.0,514.0 L500.1,513.3 L501.2,512.6 L502.3,511.9 L503.4,511.2 L504.5,510.6 L505.7,509.9 L506.8,509.3 L507.9,508.7 L509.1,508.0 L510.3,507.5 L511.4,506.9 L512.6,506.3 L513.8,505.8 L515.0,505.3 L516.2,504.7 L517.4,504.2 L518.7,503.8 L519.9,503.3 L521.1,502.8 L522.3,502.4 L523.6,502.0 L524.8,501.6 L526.1,501.2 L527.3,500.8 L528.6,500.5 L529.9,500.1 L531.1,499.8 L532.4,499.5 L533.7,499.2 L534.9,499.0 L536.2,498.7 L537.5,498.5 L538.8,498.2 L540.1,498.0 L541.3,497.8 L542.6,497.7 L543.9,497.5 L545.2,497.4 L546.5,497.3 L547.8,497.2 L549.1,497.1 L550.4,497.0 L551.6,497.0 L552.9,496.9 L554.2,496.9 L555.5,496.9 L556.8,496.9 L558.1,496.9 L559.4,496.9 L560.7,497.0 L562.0,497.1 L563.2,497.1 L564.5,497.2 L565.8,497.3 L567.1,497.4 L568.4,497.6 L569.7,497.7 L571.0,497.9 L572.3,498.0 L573.6,498.2 L574.9,498.4 L576.1,498.6 L577.4,498.8 L578.7,499.0 L580.0,499.2 L581.3,499.5 L582.6,499.7 L583.9,500.0 L585.2,500.3 L586.4,500.5 L587.7,500.8 L589.0,501.1 L590.3,501.4 L591.6,501.7 L592.9,502.0 L594.2,502.4 L595.5,502.7 L596.7,503.0 L598.0,503.4 L599.3,503.7 L600.6,504.1 L601.9,504.5 L603.1,504.8 L604.4,505.2 L605.7,505.6 L607.0,506.0 L608.3,506.4 L609.5,506.8 L610.8,507.2 L612.1,507.6 L613.4,508.0 L614.7,508.4 L615.9,508.8 L617.2,509.2 L618.5,509.6 L619.7,510.0 L621.0,510.5 L622.3,510.9 L623.6,511.3 L624.8,511.7 L626.1,512.2 L627.4,512.6 L628.6,513.0 L629.9,513.5 L631.2,513.9 L632.4,514.3 L633.7,514.8 L634.9,515.2 L636.2,515.6 L637.5,516.0 L638.7,516.5 L640.0,516.9 L641.2,517.3 L642.5,517.7 L643.7,518.1 L645.0,518.5 L646.2,519.0 L647.5,519.4 L648.7,519.8 L650.0,520.2 L651.2,520.6 L652.5,520.9 L653.7,521.3 L654.9,521.7 L656.2,522.1 L657.4,522.5 L658.6,522.8 L659.9,523.2 L661.1,523.5 L662.3,523.9 L663.6,524.2 L664.8,524.5 L666.0,524.9 L667.3,525.2 L668.5,525.5 L669.7,525.8" fill="none" stroke="#000" stroke-width="2.5" stroke-linejoin="round"/>
<path d="M449.6,397.2 L450.1,398.7 L450.6,400.2 L451.0,401.7 L451.5,403.2 L452.0,404.7 L452.4,406.3 L452.9,407.8 L453.4,409.3 L453.8,410.8 L454.2,412.4 L454.7,413.9 L455.1,415.4 L455.6,417.0 L456.0,418.5 L456.4,420.1 L456.9,421.6 L457.3,423.1 L457.8,424.7 L458.2,426.2 L458.6,427.8 L459.1,429.3 L459.5,430.9 L459.9,432.4 L460.4,434.0 L460.8,435.5 L461.3,437.1 L461.7,438.6 L462.2,440.2 L462.6,441.7 L463.1,443.3 L463.6,444.8 L464.0,446.4 L464.5,447.9 L465.0,449.4 L465.5,451.0 L466.0,452.5 L466.5,454.0 L467.0,455.6 L467.5,457.1 L468.0,458.6 L468.6,460.2 L469.1,461.7 L469.7,463.2 L470.2,464.7 L470.8,466.2 L471.4,467.7 L472.0,469.2 L472.6,470.7 L473.2,472.2 L473.8,473.7 L474.4,475.2 L475.1,476.6 L475.7,478.1 L476.4,479.6 L477.1,481.0 L477.8,482.5 L478.5,483.9 L479.2,485.4 L480.0,486.8 L480.7,488.2 L481.5,489.6 L482.2,491.1 L483.0,492.5 L483.8,493.9 L484.6,495.2 L485.4,496.6 L486.3,498.0 L487.1,499.4 L488.0,500.7 L488.8,502.1 L489.7,503.4 L490.6,504.7 L491.5,506.1 L492.4,507.4 L493.3,508.7 L494.3,510.0 L495.2,511.3 L496.2,512.5 L497.1,513.8 L498.1,515.0 L499.1,516.3 L500.1,517.5 L501.2,518.7 L502.2,519.9 L503.2,521.1 L504.3,522.3 L505.3,523.5 L506.4,524.7 L507.5,525.8 L508.6,526.9 L509.7,528.1 L510.8,529.2 L512.0,530.3 L513.1,531.4 L514.3,532.4 L515.4,533.5 L516.6,534.5 L517.8,535.6 L519.0,536.6 L520.2,537.6 L521.4,538.6 L522.7,539.5 L523.9,540.5 L525.2,541.4 L526.5,542.4 L527.7,543.3 L529.0,544.2 L530.3,545.1 L531.6,545.9 L533.0,546.8 L534.3,547.6 L535.6,548.5 L537.0,549.3 L538.3,550.1 L539.7,550.9 L541.1,551.7 L542.5,552.4 L543.9,553.2 L545.3,553.9 L546.7,554.7 L548.1,555.4 L549.5,556.1 L551.0,556.8 L552.4,557.4 L553.9,558.1 L555.3,558.8 L556.8,559.4 L558.3,560.0 L559.7,560.6 L561.2,561.3 L562.7,561.8 L564.2,562.4 L565.7,563.0 L567.2,563.6 L568.7,564.1 L570.3,564.6 L571.8,565.2 L573.3,565.7 L574.8,566.2 L576.4,566.7 L577.9,567.2 L579.5,567.6 L581.0,568.1 L582.6,568.6 L584.2,569.0 L585.7,569.4 L587.3,569.9 L588.9,570.3 L590.5,570.7 L592.0,571.1 L593.6,571.4 L595.2,571.8 L596.8,572.2 L598.4,572.5 L600.0,572.9 L601.6,573.2 L603.2,573.5 L604.8,573.9 L606.4,574.2 L608.0,574.5 L609.6,574.7 L611.2,575.0 L612.8,575.3 L614.4,575.6 L616.0,575.8 L617.6,576.0 L619.3,576.3 L620.9,576.5 L622.5,576.7 L624.1,576.9 L625.7,577.1 L627.3,577.3 L628.9,577.5 L630.5,577.6 L632.1,577.8 L633.7,578.0 L635.3,578.1 L636.9,578.2 L638.5,578.3 L640.2,578.5 L641.7,578.6 L643.3,578.7 L644.9,578.7 L646.5,578.8 L648.1,578.9 L649.7,578.9 L651.3,579.0 L652.9,579.0 L654.4,579.1 L656.0,579.1 L657.6,579.1 L659.2,579.1 L660.7,579.1 L662.3,579.1 L663.8,579.1 L665.4,579.1 L666.9,579.1 L668.5,579.1 L670.0,579.1" fill="none" stroke="#000" stroke-width="2.5" stroke-linejoin="round"/>
<path d="M449.6,390.9 L455.1,401.1 L444.1,401.1 Z"/>
<path d="M465.5,441.3 L471.0,451.5 L460.0,451.5 Z"/>
<path d="M473.6,475.4 L479.1,485.6 L468.1,485.6 Z"/>
<path d="M489.9,495.3 L495.4,505.5 L484.4,505.5 Z"/>
<path d="M497.9,510.5 L503.4,520.7 L492.4,520.7 Z"/>
<path d="M506.1,519.6 L511.6,529.8 L500.6,529.8 Z"/>
<path d="M569.0,554.7 L574.5,564.9 L563.5,564.9 Z"/>
<path d="M641.8,573.5 L647.3,583.7 L636.3,583.7 Z"/>
<circle cx="449.6" cy="579.2" r="5.8"/>
<circle cx="465.8" cy="551.3" r="5.8"/>
<circle cx="474.1" cy="543.4" r="5.8"/>
<circle cx="489.9" cy="520.8" r="5.8"/>
<circle cx="497.9" cy="515.2" r="5.8"/>
<circle cx="506.1" cy="508.6" r="5.8"/>
<circle cx="569.1" cy="497.9" r="5.8"/>
<circle cx="641.8" cy="517.2" r="5.8"/></g>
</svg>
</body>
</html>
